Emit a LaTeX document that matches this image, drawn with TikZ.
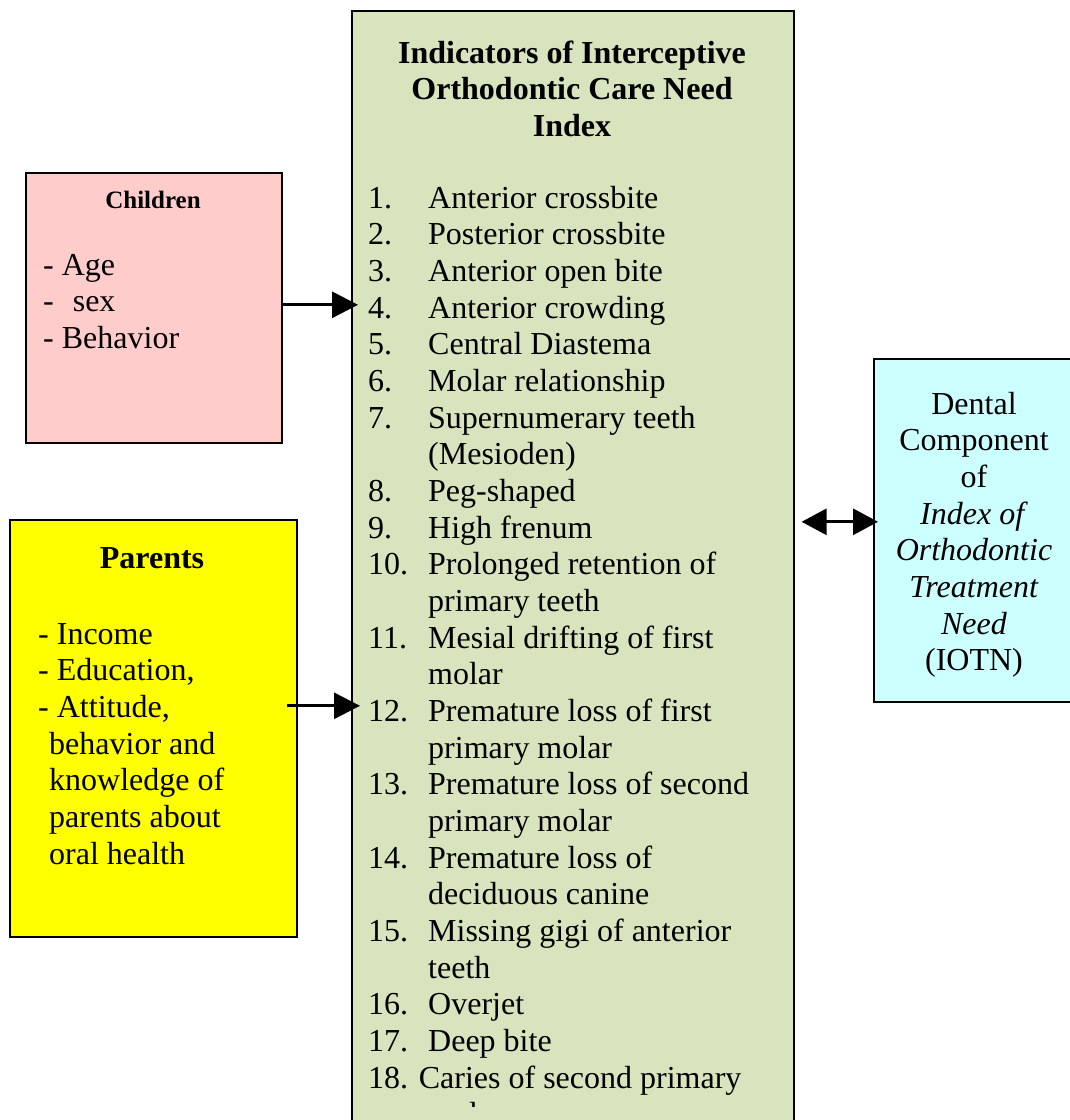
\documentclass[tikz,border=0pt]{standalone}
\usepackage{fontspec}
\setmainfont{Liberation Serif}
\usetikzlibrary{arrows.meta}
\definecolor{indgreen}{HTML}{D7E4BD}
\definecolor{kidpink}{HTML}{FFCCCC}
\definecolor{parentyellow}{HTML}{FFFF00}
\definecolor{iotncyan}{HTML}{CCFFFF}

\begin{document}
\begin{tikzpicture}[x=1pt,y=-1pt,
  box/.style={draw=black, line width=1.6pt, inner sep=0pt, anchor=north west},
  txt/.style={inner sep=0pt, font=\fontsize{32}{36.67}\selectfont},
  headtxt/.style={inner sep=0pt, font=\fontsize{32}{36.67}\selectfont\bfseries},
  link/.style={line width=3pt, -{Triangle[length=26pt,width=26pt]}},
  bilink/.style={line width=3pt, {Triangle[length=25pt,width=26pt]}-{Triangle[length=25pt,width=26pt]}},
  ]
\useasboundingbox (0,0) rectangle (1070,1120);
\clip (0,0) rectangle (1070,1120);

% boxes
\node[box, fill=indgreen, minimum width=442pt, minimum height=1150pt] (ind) at (351,10) {};
\node[box, fill=kidpink, minimum width=256pt, minimum height=270pt] (kids) at (25,172) {};
\node[box, fill=parentyellow, minimum width=287pt, minimum height=417pt] (par) at (9,519) {};
\node[box, fill=iotncyan, minimum width=200pt, minimum height=343pt] (iotn) at (873,358) {};

% central index
\node[headtxt, anchor=base] (indtitle) at (572,63)
  {\begin{tabular}[t]{@{}c@{}}Indicators of Interceptive\\Orthodontic Care Need\\Index\end{tabular}};
\begin{scope}
% the text frame of the list ends here; its last line runs past it
\clip (351,10) rectangle (793,1106);
\node[txt, anchor=base west] (indlist) at (368,208)
  {\begin{tabular}[t]{@{}p{60pt}@{}l@{}}
  1. & Anterior crossbite\\
  2. & Posterior crossbite\\
  3. & Anterior open bite\\
  4. & Anterior crowding\\
  5. & Central Diastema\\
  6. & Molar relationship\\
  7. & Supernumerary teeth\\
     & (Mesioden)\\
  8. & Peg-shaped\\
  9. & High frenum\\
  10. & Prolonged retention of\\
      & primary teeth\\
  11. & Mesial drifting of first\\
      & molar\\
  12. & Premature loss of first\\
      & primary molar\\
  13. & Premature loss of second\\
      & primary molar\\
  14. & Premature loss of\\
      & deciduous canine\\
  15. & Missing gigi of anterior\\
      & teeth\\
  16. & Overjet\\
  17. & Deep bite\\
  \multicolumn{2}{@{}l@{}}{18. Caries of second primary}\\
      & molar
  \end{tabular}};
\end{scope}

% children
\node[inner sep=0pt, font=\fontsize{25}{30}\selectfont\bfseries, anchor=base] (kidstitle) at (153,208) {Children};
\node[txt, anchor=base west] (kidslist) at (43,275)
  {\begin{tabular}[t]{@{}l@{}}- Age\\-\hspace{19pt}sex\\- Behavior\end{tabular}};

% parents
\node[headtxt, anchor=base] (partitle) at (152,568) {Parents};
\node[txt, anchor=base west] (parlist) at (38,644)
  {\begin{tabular}[t]{@{}l@{}}- Income\\- Education,\\- Attitude,\\
   \hspace{11pt}behavior and\\\hspace{11pt}knowledge of\\\hspace{11pt}parents about\\\hspace{11pt}oral health\end{tabular}};

% IOTN
\node[txt, anchor=base] (iotntext) at (974,414)
  {\begin{tabular}[t]{@{}c@{}}Dental\\Component\\of\\\textit{Index of}\\\textit{Orthodontic}\\\textit{Treatment}\\\textit{Need}\\(IOTN)\end{tabular}};

% connectors
\coordinate (kidsout) at ([yshift=3pt]kids.east);
\draw[link, shorten >=-7pt] (kidsout) -- (kidsout -| ind.west);
\coordinate (parout) at ([xshift=-11pt,yshift=22.5pt]par.east);
\draw[link, shorten >=-9pt] (parout) -- (parout -| ind.west);
\coordinate (iotnin) at ([yshift=8.5pt]iotn.west);
\draw[bilink, shorten <=7pt, shorten >=-5pt] (iotnin -| ind.east) -- (iotnin);
\end{tikzpicture}
\end{document}
